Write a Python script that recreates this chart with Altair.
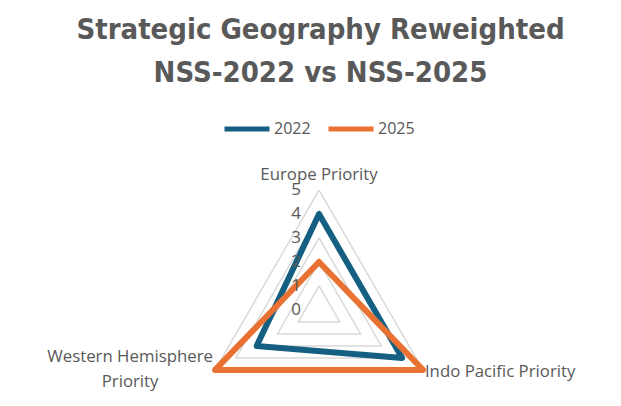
import altair as alt
import pandas as pd

categories = ["Europe Priority", "Indo Pacific Priority", "Western Hemisphere Priority"]
series_names = ["2022", "2025"]
values_2022 = [4, 4, 3]
values_2025 = [2, 5, 5]
grid_levels = [1, 2, 3, 4, 5]
tick_values = [0, 1, 2, 3, 4, 5]
tick_labels = ["0", "1", "2", "3", "4", "5"]

TEXT = "#595959"
BLUE = "#156082"
ORANGE = "#E97132"
GRID = "#D9D9D9"
LABEL_FONT = "Open Sans"

# series table (closed polygons: repeat first point)
rows = []
for s, vals in zip(series_names, [values_2022, values_2025]):
    for i in range(len(categories) + 1):
        k = i % len(categories)
        rows.append({"series": s, "cat": categories[k], "idx": k, "ord": i, "r": vals[k]})
series_df = pd.DataFrame(rows)

grid_rows = []
for lv in grid_levels:
    for i in range(len(categories) + 1):
        k = i % len(categories)
        grid_rows.append({"level": lv, "idx": k, "ord": i, "r": lv})
grid_df = pd.DataFrame(grid_rows)

tick_df = pd.DataFrame({"r": tick_values, "label": tick_labels, "idx": [0] * len(tick_values)})
cat_df = pd.DataFrame({"cat": categories, "idx": list(range(len(categories))), "r": [5] * len(categories)})


def to_xy(ch):
    return ch.transform_calculate(
        ang="PI/2 - datum.idx * 2 * PI / 3"
    ).transform_calculate(
        px="datum.r * cos(datum.ang)",
        py="datum.r * sin(datum.ang)",
    )

xs = alt.Scale(domain=[-12.96, 12.25], nice=False, zero=False)
ys = alt.Scale(domain=[-3.67, 6.96], nice=False, zero=False)
X = alt.X("px:Q", scale=xs, axis=None)
Y = alt.Y("py:Q", scale=ys, axis=None)

grid = to_xy(alt.Chart(grid_df)).mark_line(color=GRID, strokeWidth=1.5).encode(
    x=X, y=Y, detail="level:N", order="ord:Q"
)

lines = to_xy(alt.Chart(series_df)).mark_line(strokeWidth=6, strokeJoin="round", strokeCap="round").encode(
    x=X, y=Y,
    color=alt.Color(
        "series:N",
        scale=alt.Scale(domain=series_names, range=[BLUE, ORANGE]),
        legend=alt.Legend(
            title=None, orient="none", direction="horizontal",
            legendX=214, legendY=-39,
            symbolType="stroke", symbolStrokeWidth=5, symbolSize=2025,
            labelFontSize=16, labelColor=TEXT, labelFont=LABEL_FONT,
            labelOffset=2, columnPadding=7,
        ),
    ),
    detail="series:N",
    order="ord:Q",
)

ticks = to_xy(alt.Chart(tick_df)).mark_text(
    fontSize=17, color=TEXT, font=LABEL_FONT, dx=-23, align="center", baseline="middle"
).encode(x=X, y=Y, text="label:N")

base_cat = to_xy(alt.Chart(cat_df))
lab_top = base_cat.transform_filter("datum.idx == 0").mark_text(
    fontSize=16.8, color=TEXT, font=LABEL_FONT, dy=-15, align="center", baseline="middle"
).encode(x=X, y=Y, text="cat:N")
lab_right = base_cat.transform_filter("datum.idx == 1").mark_text(
    fontSize=16.8, color=TEXT, font=LABEL_FONT, dx=2, dy=2, align="left", baseline="middle"
).encode(x=X, y=Y, text="cat:N")
lab_left = base_cat.transform_filter("datum.idx == 2").transform_calculate(
    lab="replace(datum.cat, ' Priority', '\\nPriority')"
).mark_text(
    fontSize=16.8, color=TEXT, font=LABEL_FONT, dx=-85, dy=-13, align="center",
    baseline="middle", lineBreak="\n", lineHeight=25
).encode(x=X, y=Y, text="lab:N")

chart = alt.layer(grid, lines, ticks, lab_top, lab_right, lab_left).properties(
    width=605, height=255,
    padding={"left": 0, "top": 135, "right": 0, "bottom": 0},
    autosize=alt.AutoSizeParams(type="none"),
    title=alt.TitleParams(
        text=["Strategic Geography Reweighted", "NSS-2022 vs NSS-2025"],
        fontSize=29, font="DejaVu Sans Condensed, Roboto, sans-serif", fontWeight="bold", color=TEXT,
        anchor="middle", lineHeight=43, dx=10, offset=16,
    ),
).configure_view(stroke=None)

chart.save("out.html", embed_options={"renderer": "svg", "actions": False})
